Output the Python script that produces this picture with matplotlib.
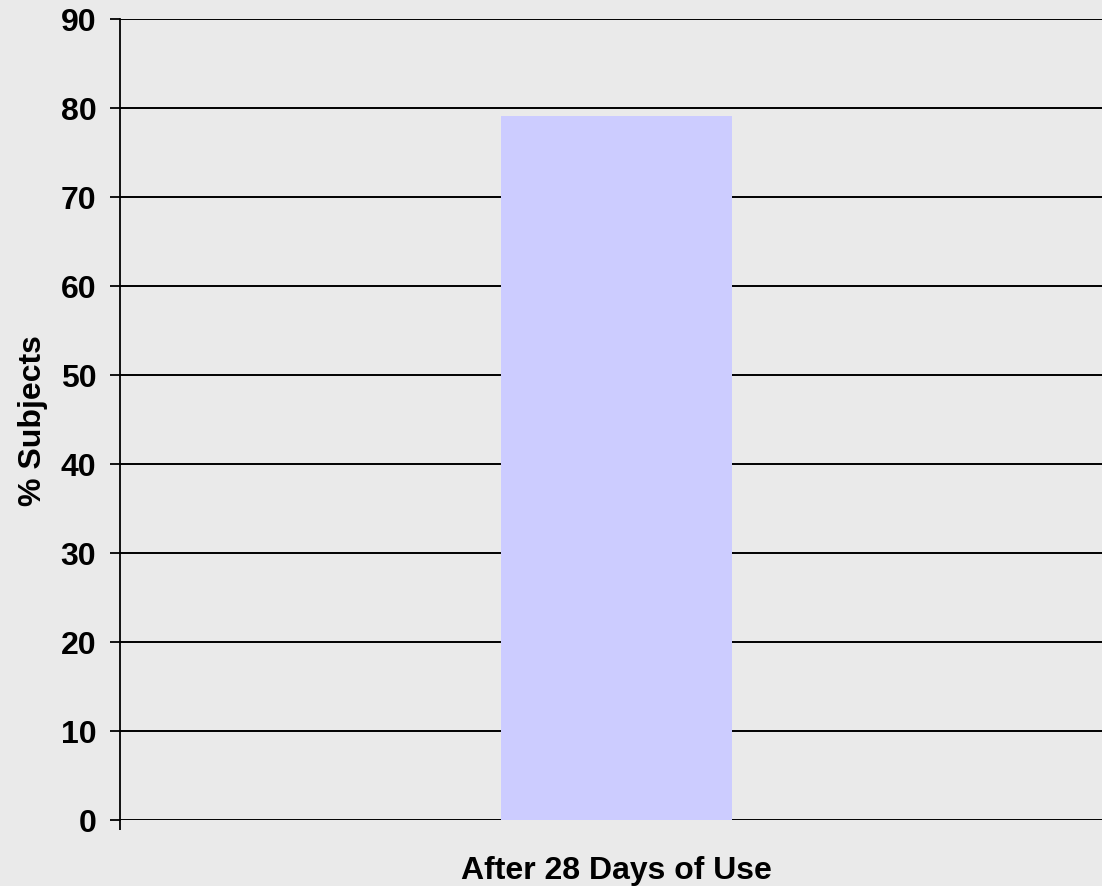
import matplotlib.pyplot as plt

plt.rcParams['font.family'] = ['Liberation Sans', 'DejaVu Sans']

categories = ["After 28 Days of Use"]
values = [79]
yticks = [0, 10, 20, 30, 40, 50, 60, 70, 80, 90]

fig = plt.figure(figsize=(11.02, 8.87), dpi=100, facecolor="#eaeaea")
ax = fig.add_axes([120/1102, 1-821/887, 993/1102, (821-19.5)/887])
ax.set_facecolor("#eaeaea")

ax.bar([0], values, width=0.233, color="#ccccff", zorder=2)
ax.set_xlim(-0.5, 0.5)
ax.set_ylim(0, 90)
ax.set_yticks(yticks)
ax.yaxis.grid(True, color="black", linewidth=1.4, zorder=1)
ax.set_axisbelow(True)

ax.set_xticks([-0.5])
ax.set_xticklabels([""])
ax.tick_params(axis="x", length=7, width=1.3, direction="out")
ax.tick_params(axis="y", length=7, width=1.3, direction="out", pad=10,
               labelsize=23)
for lab in ax.get_yticklabels():
    lab.set_fontweight("bold")

for s in ["top", "right", "bottom"]:
    ax.spines[s].set_visible(False)
ax.spines["left"].set_linewidth(1.3)

ax.set_ylabel("% Subjects", fontsize=23, fontweight="bold", labelpad=9)
ax.set_xlabel(categories[0], fontsize=23, fontweight="bold", labelpad=15)

fig.savefig("out.png", dpi=100, facecolor=fig.get_facecolor())
